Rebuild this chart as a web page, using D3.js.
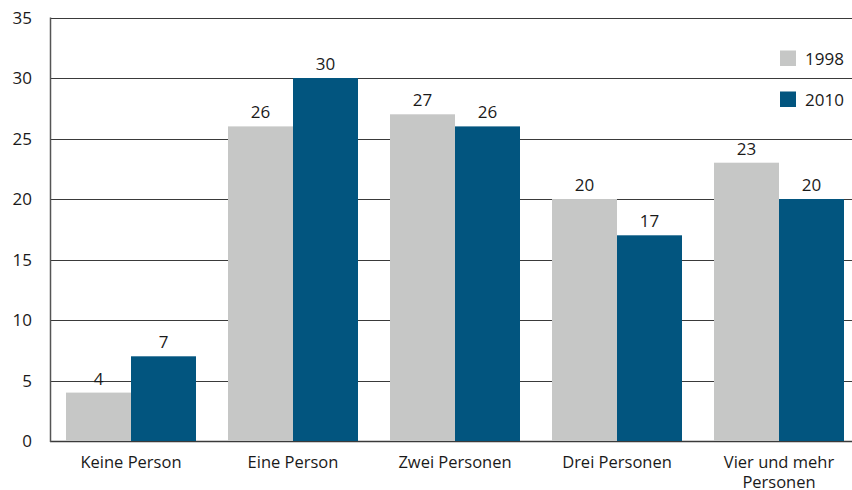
<!DOCTYPE html>
<html>
<head>
<meta charset="utf-8">
<script src="https://cdn.jsdelivr.net/npm/d3@7"></script>
<style>
  body { margin: 0; background: #fff; }
  text { font-family: "Open Sans", sans-serif; fill: #1a1a1a; }
</style>
</head>
<body>
<div id="chart"></div>
<script>
// data
var categories = ["Keine Person", "Eine Person", "Zwei Personen", "Drei Personen", "Vier und mehr Personen"];
var years = ["1998", "2010"];
var values1998 = [4, 26, 27, 20, 23];
var values2010 = [7, 30, 26, 17, 20];
var yTicks = [0, 5, 10, 15, 20, 25, 30, 35];
var colors = ["#c6c7c6", "#02557f"];

const width = 852, height = 490;
const margin = {top: 17.5, left: 50, bottom: 49};

var rows = categories.map(function(c, i) {
  return {cat: c, vals: [values1998[i], values2010[i]]};
});

const svg = d3.select("#chart").append("svg")
    .attr("width", width)
    .attr("height", height);

// band step of 162px, plot runs past the right edge of the picture
var x = d3.scaleBand()
    .domain(categories)
    .range([margin.left, margin.left + 162 * categories.length])
    .paddingInner(32 / 162)
    .paddingOuter(16 / 162);

var x1 = d3.scaleBand()
    .domain(years)
    .range([0, x.bandwidth()]);

var y = d3.scaleLinear()
    .domain([0, 35])
    .range([height - margin.bottom, margin.top]);

// grid lines
svg.append("g")
    .selectAll("line")
    .data(yTicks)
    .enter()
    .append("line")
    .attr("x1", margin.left)
    .attr("x2", width)
    .attr("y1", function(d) { return Math.round(y(d)) + 0.5; })
    .attr("y2", function(d) { return Math.round(y(d)) + 0.5; })
    .attr("stroke", "#3a3a3a")
    .attr("stroke-width", function(d) { return d == 0 ? 1.5 : 1; });

// y tick labels
svg.append("g")
    .selectAll("text")
    .data(yTicks)
    .enter()
    .append("text")
    .attr("x", 32)
    .attr("y", function(d) { return y(d); })
    .attr("dy", "0.36em")
    .attr("text-anchor", "end")
    .attr("font-size", "17px")
    .text(function(d) { return d; });

// bars
var groups = svg.append("g")
    .selectAll("g")
    .data(rows)
    .enter()
    .append("g")
    .attr("transform", function(d) { return "translate(" + x(d.cat) + ",0)"; });

groups.selectAll("rect")
    .data(function(d) { return d.vals; })
    .enter()
    .append("rect")
    .attr("x", function(d, i) { return x1(years[i]); })
    .attr("y", function(d) { return y(d); })
    .attr("width", x1.bandwidth())
    .attr("height", function(d) { return y(0) - y(d); })
    .attr("fill", function(d, i) { return colors[i]; });

groups.selectAll("text")
    .data(function(d) { return d.vals; })
    .enter()
    .append("text")
    .attr("x", function(d, i) { return x1(years[i]) + x1.bandwidth() / 2; })
    .attr("y", function(d) { return y(d) - 8; })
    .attr("text-anchor", "middle")
    .attr("font-size", "17px")
    .text(function(d) { return d; });

// left axis line
svg.append("line")
    .attr("x1", margin.left + 0.5)
    .attr("x2", margin.left + 0.5)
    .attr("y1", y(35))
    .attr("y2", y(0) + 1)
    .attr("stroke", "#555")
    .attr("stroke-width", 1.5);

// category labels, long one wrapped on two lines
var catLabels = svg.append("g")
    .selectAll("text")
    .data(categories)
    .enter()
    .append("text")
    .attr("x", function(d) { return x(d) + x.bandwidth() / 2; })
    .attr("y", 468)
    .attr("text-anchor", "middle")
    .attr("font-size", "16.5px");

catLabels.each(function(d) {
  var t = d3.select(this);
  var parts = d == "Vier und mehr Personen" ? ["Vier und mehr", "Personen"] : [d];
  parts.forEach(function(p, i) {
    t.append("tspan")
      .attr("x", t.attr("x"))
      .attr("dy", i == 0 ? 0 : 20)
      .text(p);
  });
});

// legend
var legend = svg.append("g")
    .selectAll("g")
    .data(years)
    .enter()
    .append("g")
    .attr("transform", function(d, i) { return "translate(780," + (50.5 + i * 41) + ")"; });

legend.append("rect")
    .attr("width", 16)
    .attr("height", 15.5)
    .attr("fill", function(d, i) { return colors[i]; });

legend.append("text")
    .attr("x", 25)
    .attr("y", 8)
    .attr("dy", "0.36em")
    .attr("font-size", "17px")
    .text(function(d) { return d; });
</script>
</body>
</html>
